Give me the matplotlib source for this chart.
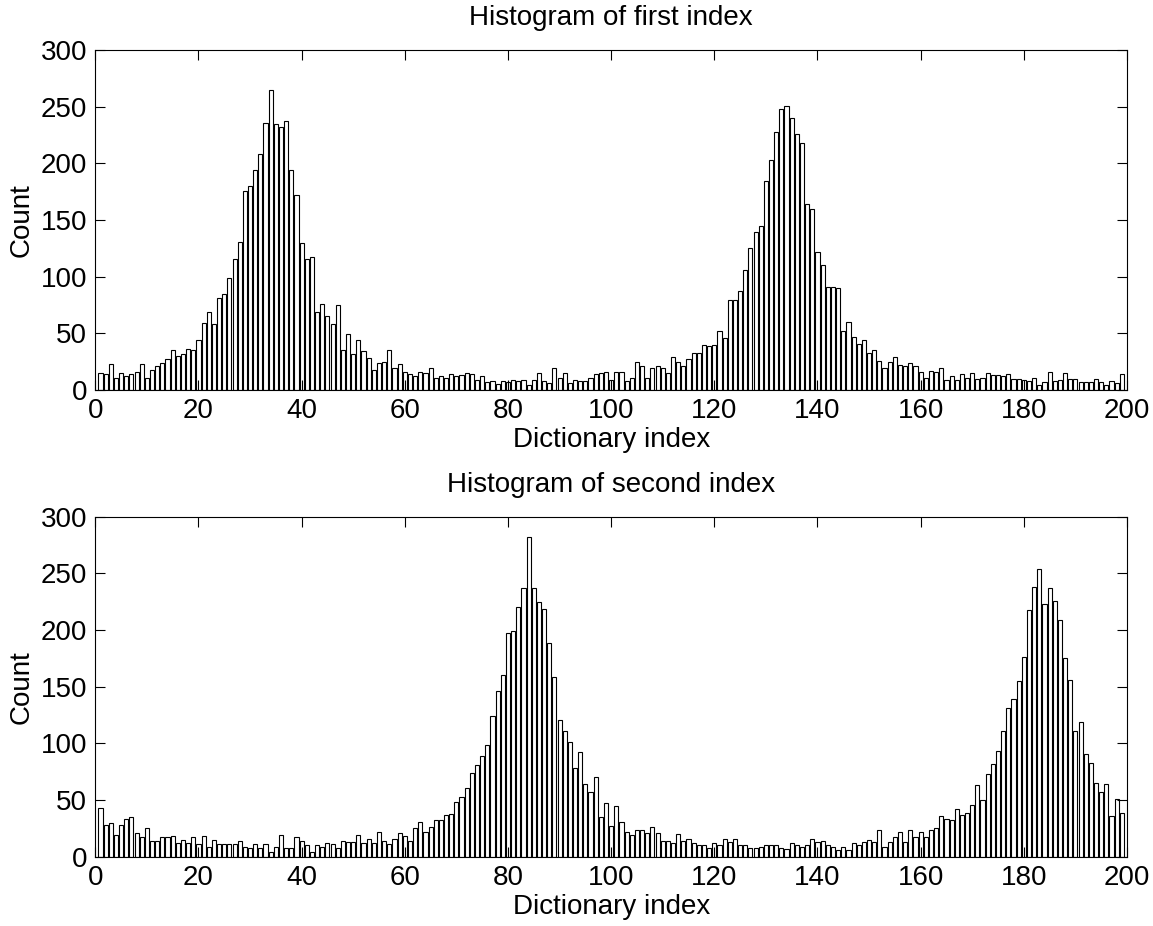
import matplotlib
matplotlib.use("Agg")
import matplotlib.pyplot as plt
import numpy as np

# Counts per dictionary index (bins 1..199)
first_counts = [
    15, 14, 23, 11, 15, 12, 14, 16, 23, 11,
    18, 21, 24, 27, 35, 30, 32, 36, 35, 44,
    59, 69, 58, 81, 85, 99, 116, 131, 176, 180,
    194, 208, 236, 265, 235, 232, 237, 194, 172, 130,
    116, 117, 69, 76, 65, 58, 75, 35, 49, 32,
    44, 34, 28, 18, 24, 25, 35, 19, 23, 16,
    14, 12, 16, 15, 19, 11, 12, 11, 14, 12,
    13, 15, 14, 9, 12, 7, 8, 5, 8, 7,
    9, 8, 9, 4, 9, 15, 8, 6, 19, 11,
    15, 6, 9, 8, 8, 11, 14, 15, 16, 9,
    16, 16, 8, 11, 25, 21, 11, 19, 21, 19,
    15, 29, 25, 21, 27, 33, 33, 40, 39, 40,
    52, 46, 79, 79, 87, 106, 125, 139, 145, 184,
    203, 228, 248, 251, 240, 226, 218, 164, 160, 122,
    110, 91, 91, 90, 52, 60, 47, 41, 44, 33,
    35, 26, 19, 25, 29, 22, 21, 24, 21, 16,
    11, 17, 16, 19, 9, 12, 9, 14, 11, 15,
    10, 11, 15, 13, 13, 12, 14, 10, 10, 9,
    8, 11, 4, 7, 16, 8, 9, 15, 10, 10,
    7, 7, 7, 10, 7, 4, 8, 6, 14,
]

second_counts = [
    43, 28, 30, 19, 28, 33, 35, 21, 17, 25,
    14, 14, 17, 17, 18, 12, 15, 12, 17, 11,
    18, 9, 15, 11, 11, 11, 11, 14, 9, 8,
    11, 8, 11, 4, 9, 19, 8, 8, 17, 14,
    10, 4, 10, 9, 12, 11, 8, 14, 13, 13,
    19, 12, 16, 12, 22, 14, 11, 16, 21, 18,
    14, 25, 31, 22, 26, 32, 32, 37, 38, 48,
    53, 61, 74, 81, 89, 99, 124, 146, 160, 197,
    199, 220, 237, 282, 237, 225, 219, 189, 159, 121,
    111, 101, 78, 92, 64, 57, 70, 35, 47, 27,
    45, 31, 22, 19, 24, 24, 21, 26, 21, 14,
    14, 12, 20, 14, 16, 12, 10, 10, 8, 12,
    10, 16, 13, 16, 10, 10, 8, 8, 9, 10,
    10, 10, 8, 7, 12, 10, 9, 10, 16, 13,
    14, 10, 9, 6, 9, 6, 12, 10, 13, 15,
    13, 24, 9, 13, 17, 22, 13, 24, 17, 22,
    17, 24, 25, 36, 33, 32, 42, 37, 39, 46,
    63, 50, 73, 82, 93, 111, 131, 139, 155, 176,
    218, 238, 254, 223, 237, 226, 209, 175, 156, 111,
    119, 91, 83, 65, 57, 64, 36, 51, 39,
]

titles = ["Histogram of first index", "Histogram of second index"]

plt.rcParams["font.family"] = ["Liberation Sans", "DejaVu Sans"]
plt.rcParams["font.size"] = 20

fig = plt.figure(figsize=(11.53, 9.26), dpi=100)
W, H = 1153.0, 926.0
left, right = 95.3, 1127.0
axes_px = [(50.0, 390.0), (516.7, 856.7)]  # (top, bottom) in pixels

for (top, bot), counts, title in zip(axes_px, [first_counts, second_counts], titles):
    ax = fig.add_axes([left / W, (H - bot) / H, (right - left) / W, (bot - top) / H])
    idx = np.arange(1, len(counts) + 1)
    ax.bar(idx, counts, width=0.8, color="white", edgecolor="black",
           linewidth=0.8, align="center")
    ax.set_xlim(0, 200)
    ax.set_ylim(0, 300)
    ax.set_xticks(np.arange(0, 201, 20))
    ax.set_yticks(np.arange(0, 301, 50))
    ax.tick_params(direction="in", length=7, width=0.8, top=True, right=True,
                   labelsize=20, pad=6)
    for sp in ax.spines.values():
        sp.set_linewidth(0.8)
    ax.set_xlabel("Dictionary index", labelpad=2)
    ax.set_ylabel("Count", labelpad=4)
    ax.set_title(title, fontsize=20, pad=18)

fig.savefig("out.png", dpi=100)
